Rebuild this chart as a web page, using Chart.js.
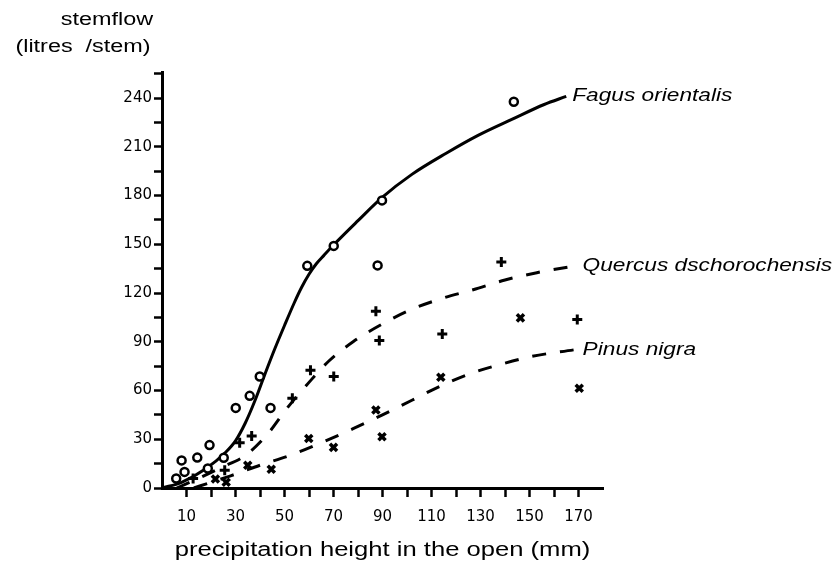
<!DOCTYPE html>
<html>
<head>
<meta charset="utf-8">
<script src="https://cdn.jsdelivr.net/npm/chart.js@4"></script>
<style>
  html, body { margin: 0; padding: 0; background: #fff; }
  #wrap { width: 835px; height: 567px; }
</style>
</head>
<body>
<div id="wrap"><canvas id="chart"></canvas></div>
<script>
// observed points (precipitation mm -> stemflow litres/stem)
const fagusX = [5.8, 9.2, 8, 14.4, 19.4, 18.7, 25.2, 30.1, 35.8, 39.9, 44.3, 59.3, 70.1, 89.8, 88, 143.6];
const fagusY = [5.8, 9.9, 17, 18.7, 26.4, 12, 18.6, 49.3, 56.7, 68.6, 49.3, 136.7, 149, 177, 137, 237.7];

const quercusX = [12.7, 25.6, 31.7, 36.6, 53.2, 60.6, 70.1, 87.3, 88.7, 114.4, 138.5, 169.5];
const quercusY = [5.8, 11, 27.8, 32, 55.2, 72.4, 68.6, 108.8, 90.7, 94.8, 139.1, 103.7];

const pinusX = [21.8, 26.2, 35, 44.6, 59.9, 70, 87.3, 89.8, 113.8, 146.3, 170.3];
const pinusY = [5.5, 3.5, 14, 11.5, 30.5, 25, 48, 31.5, 68.2, 104.7, 61.4];

// fitted curves
const fagusCurveX = [0, 8, 18, 26, 30, 34, 38, 42, 46, 50, 54, 57, 60, 63, 66, 70, 80, 90, 102, 116, 129, 143, 156, 165];
const fagusCurveY = [0, 3.5, 12, 22, 29, 40, 54, 70, 85.5, 100, 114, 123.5, 131.5, 138, 143, 149.5, 164.5, 179, 193, 206, 217, 227, 236, 241];

const quercusCurveX = [6, 15, 24, 34, 43, 51, 60, 68, 78, 90, 102, 115, 127, 140, 153, 168];
const quercusCurveY = [0, 6, 12.5, 20, 33, 49, 65, 78, 90, 101, 110, 117, 122, 128, 132.5, 136.5];

const pinusCurveX = [13, 20, 28, 40, 53, 66, 78, 90, 102, 114, 126, 138, 151, 168];
const pinusCurveY = [0, 3.5, 7.5, 14, 20.5, 28.5, 36.5, 45, 54, 63, 70.5, 76, 81, 85];

const curveNames = ['Fagus orientalis', 'Quercus dschorochensis', 'Pinus nigra'];

const toPts = (xs, ys) => xs.map((x, i) => ({ x: x, y: ys[i] }));

const curveDefs = [
  [fagusCurveX, fagusCurveY],
  [quercusCurveX, quercusCurveY],
  [pinusCurveX, pinusCurveY],
];

// species names at the end of each curve, plus the axis titles
const textPlugin = {
  id: 'texts',
  afterDatasetsDraw(chart) {
    const { ctx, scales } = chart;
    const sx = scales.x, sy = scales.y;
    const draw = (txt, px, py, size, italic, stretch, align) => {
      ctx.save();
      ctx.font = (italic ? 'italic ' : '') + size + 'px "Liberation Sans", Arial, sans-serif';
      ctx.fillStyle = '#000';
      ctx.textBaseline = 'middle';
      ctx.textAlign = align;
      ctx.translate(px, py);
      ctx.scale(stretch, 1);
      ctx.fillText(txt, 0, 0);
      ctx.restore();
    };
    curveDefs.forEach(([xs, ys], i) => {
      const px = sx.getPixelForValue(xs[xs.length - 1]);
      const py = sy.getPixelForValue(ys[ys.length - 1]);
      draw(curveNames[i], px + (i === 0 ? 6 : 9), py, 18, true, 1.26, 'left');
    });
    draw('stemflow', 107, 20, 18, false, 1.3, 'center');
    draw('(litres  /stem)', 83, 47, 18, false, 1.3, 'center');
    draw('precipitation height in the open (mm)', (sx.left + sx.right) / 2, 550, 20, false, 1.28, 'center');
  }
};

const tickFont = { family: '"DejaVu Sans", sans-serif', size: 15 };

const curveStyle = {
  showLine: true,
  pointRadius: 0,
  borderColor: '#000',
  borderWidth: 3,
  cubicInterpolationMode: 'monotone',
  clip: false,
};

new Chart(document.getElementById('chart'), {
  type: 'scatter',
  data: {
    datasets: [
      {
        label: 'Fagus orientalis',
        data: toPts(fagusX, fagusY),
        pointStyle: 'circle',
        pointRadius: 4,
        borderWidth: 2.5,
        borderColor: '#000',
        backgroundColor: '#fff',
        clip: false,
      },
      {
        label: 'Quercus dschorochensis',
        data: toPts(quercusX, quercusY),
        pointStyle: 'cross',
        pointRadius: 5,
        borderWidth: 3,
        borderColor: '#000',
        clip: false,
      },
      {
        label: 'Pinus nigra',
        data: toPts(pinusX, pinusY),
        pointStyle: 'crossRot',
        pointRadius: 5,
        borderWidth: 3.5,
        borderColor: '#000',
        clip: false,
      },
      Object.assign({ label: 'Fagus curve', data: toPts(fagusCurveX, fagusCurveY) }, curveStyle),
      Object.assign({ label: 'Quercus curve', data: toPts(quercusCurveX, quercusCurveY), borderDash: [14, 14] }, curveStyle),
      Object.assign({ label: 'Pinus curve', data: toPts(pinusCurveX, pinusCurveY), borderDash: [14, 14] }, curveStyle),
    ],
  },
  options: {
    responsive: true,
    maintainAspectRatio: false,
    animation: false,
    devicePixelRatio: 1,
    layout: { padding: { left: 0, top: 72, right: 232, bottom: 0 } },
    plugins: {
      legend: { display: false },
      tooltip: { enabled: false },
    },
    scales: {
      x: {
        type: 'linear',
        min: 0,
        max: 180,
        border: { display: true, color: '#000', width: 3 },
        grid: { drawOnChartArea: false, drawTicks: true, tickLength: 9, tickWidth: 2.5, tickColor: '#000' },
        afterBuildTicks: s => { s.ticks = s.ticks.filter(t => t.value >= 10 && t.value <= 170); },
        ticks: {
          stepSize: 10,
          autoSkip: false,
          maxRotation: 0,
          padding: 11,
          color: '#000',
          font: tickFont,
          callback: v => (v % 20 === 10 ? String(v) : ''),
        },
        afterFit: s => { s.height = 79; },
      },
      y: {
        type: 'linear',
        min: 0,
        max: 256,
        border: { display: true, color: '#000', width: 3 },
        grid: { drawOnChartArea: false, drawTicks: true, tickLength: 8, tickWidth: 2.5, tickColor: '#000' },
        ticks: {
          stepSize: 15,
          includeBounds: false,
          autoSkip: false,
          padding: 2,
          color: '#000',
          font: tickFont,
          callback: v => (v % 30 === 0 ? String(v) : ''),
        },
        afterFit: s => { s.width = 162; },
      },
    },
  },
  plugins: [textPlugin],
});
</script>
</body>
</html>
